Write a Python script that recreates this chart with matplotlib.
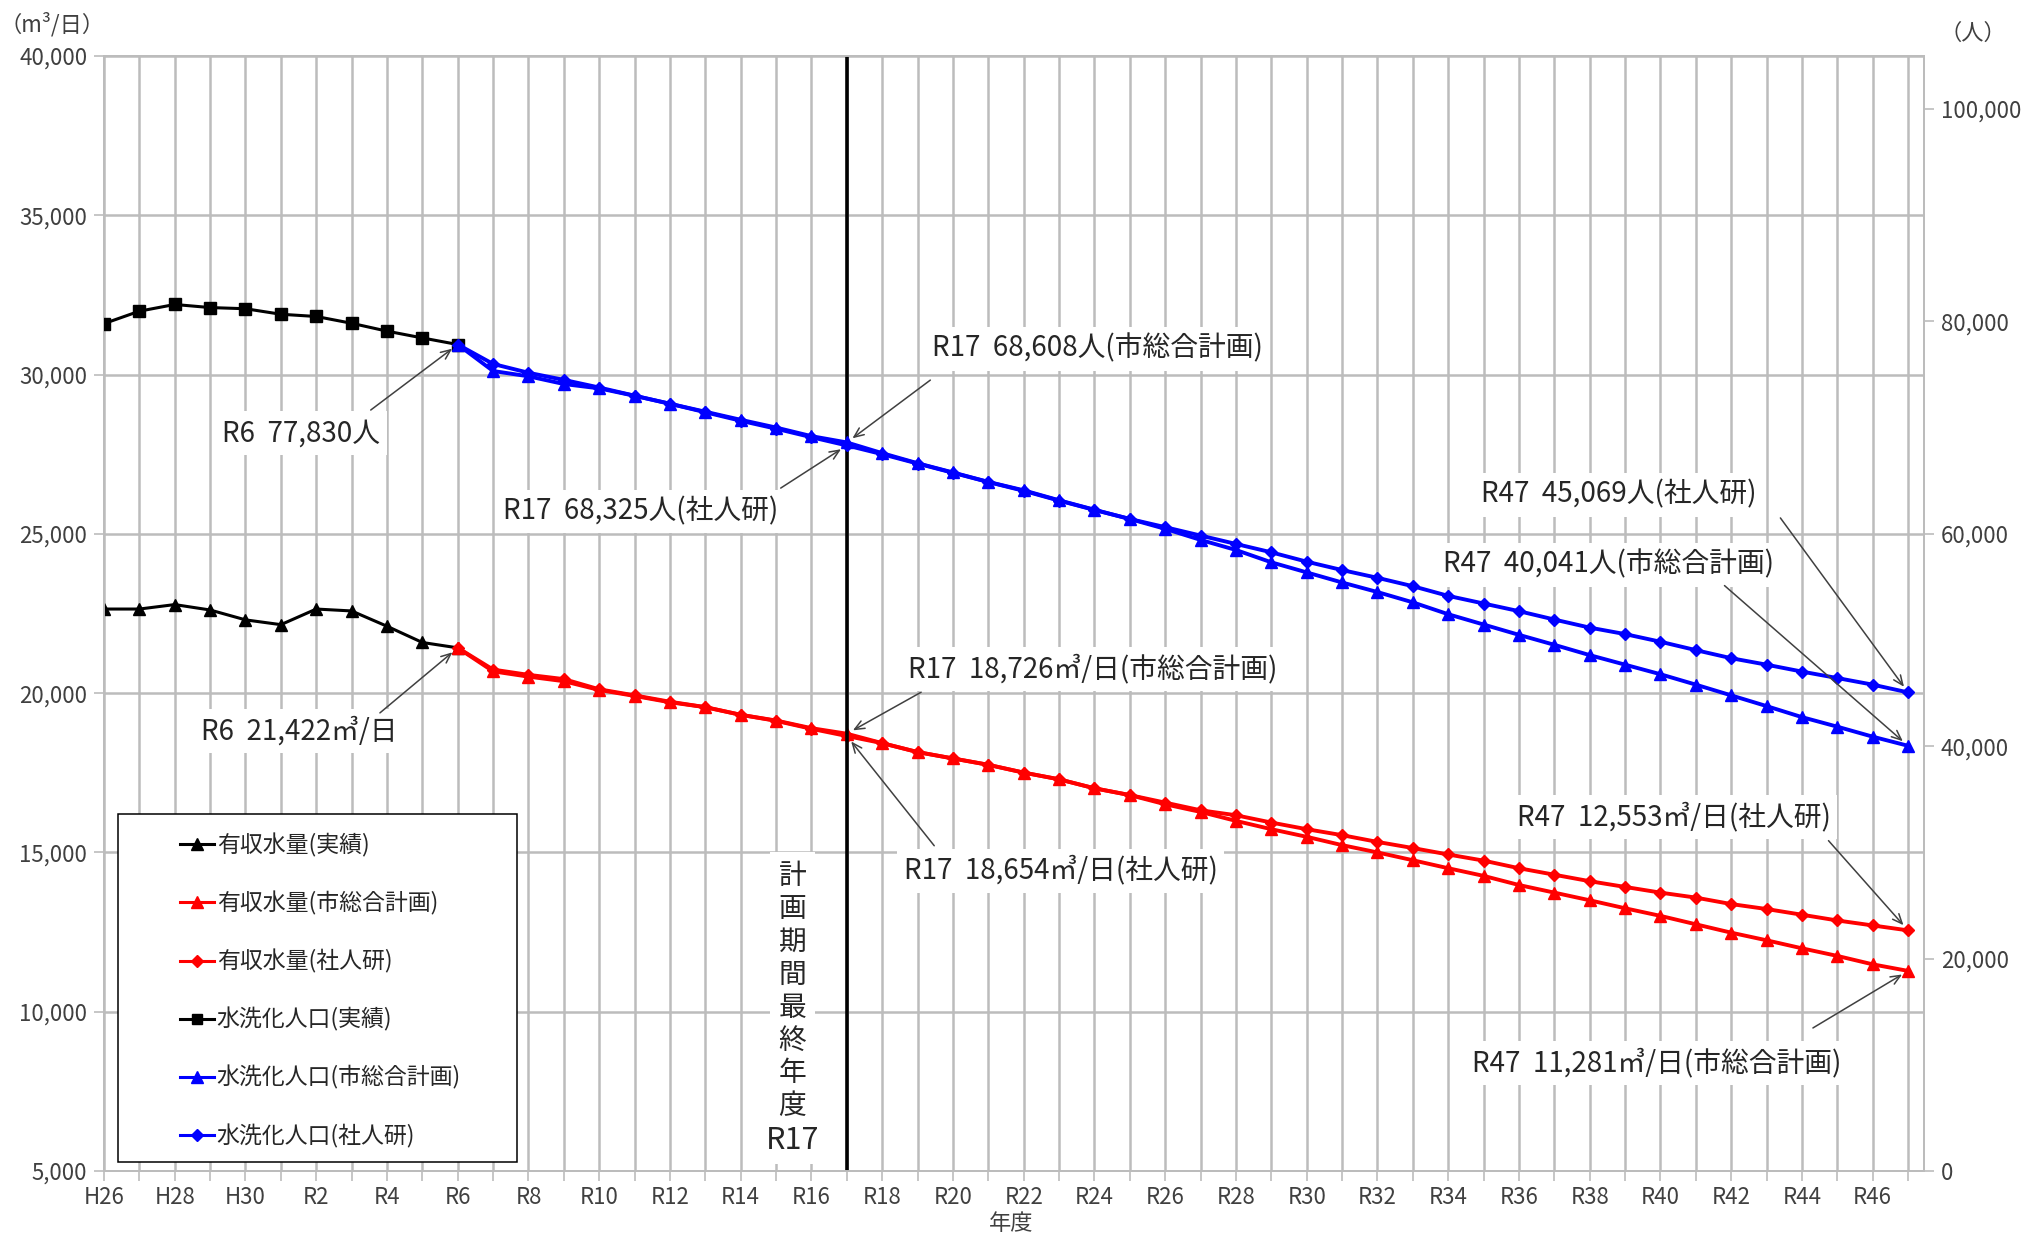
import matplotlib
matplotlib.use('Agg')
import matplotlib.pyplot as plt
from matplotlib.lines import Line2D
from matplotlib.patches import Rectangle

plt.rcParams['font.family'] = ['Noto Sans CJK JP', 'DejaVu Sans']

# ---------------- data ----------------
years = ['H26', 'H27', 'H28', 'H29', 'H30'] + [f'R{i}' for i in range(1, 48)]
x_actual = list(range(0, 11))      # H26 .. R6
x_proj = list(range(10, 52))       # R6 .. R47

water_actual = [22640, 22640, 22780, 22610, 22300, 22150, 22640, 22580, 22100, 21590, 21422]
pop_actual = [79800, 80970, 81600, 81310, 81200, 80680, 80470, 79830, 79090, 78450, 77830]

water_plan = [21422, 20684, 20518, 20375, 20099, 19912, 19713, 19560, 19319, 19141,
              18900, 18726, 18430, 18150, 17950, 17750, 17505, 17295, 17013, 16800,
              16511, 16271, 15990, 15729, 15490, 15229, 15000, 14755, 14504, 14264,
              13977, 13738, 13498, 13247, 13008, 12744, 12481, 12242, 11990, 11751,
              11487, 11281]
water_ipss = [21422, 20739, 20574, 20441, 20120, 19930, 19730, 19560, 19320, 19130,
              18880, 18654, 18430, 18150, 17950, 17750, 17505, 17295, 17013, 16800,
              16563, 16323, 16167, 15938, 15729, 15542, 15330, 15138, 14935, 14743,
              14504, 14300, 14097, 13917, 13738, 13582, 13379, 13223, 13044, 12864,
              12708, 12553]
pop_plan = [77830, 75334, 74837, 74110, 73700, 73000, 72250, 71500, 70740, 70010,
            69200, 68608, 67600, 66650, 65780, 64890, 64100, 63160, 62270, 61400,
            60470, 59430, 58480, 57320, 56370, 55420, 54520, 53550, 52430, 51460,
            50490, 49550, 48580, 47680, 46780, 45800, 44790, 43780, 42740, 41840,
            40900, 40041]
pop_ipss = [77830, 76000, 75170, 74500, 73780, 73010, 72250, 71450, 70650, 69900,
            69100, 68325, 67500, 66620, 65750, 64880, 64050, 63130, 62250, 61400,
            60630, 59840, 59050, 58260, 57380, 56590, 55860, 55070, 54160, 53440,
            52720, 51930, 51170, 50560, 49840, 49050, 48290, 47680, 47030, 46420,
            45800, 45069]

legend_labels = ['有収水量(実績)', '有収水量(市総合計画)', '有収水量(社人研)',
                 '水洗化人口(実績)', '水洗化人口(市総合計画)', '水洗化人口(社人研)']

left_ticks = list(range(5000, 40001, 5000))
right_ticks = list(range(0, 100001, 20000))

# ---------------- figure ----------------
W, H = 2041, 1235
fig = plt.figure(figsize=(W / 100, H / 100), dpi=100)
L, R, T, B = 104, 1924, 56, 1171
ax = fig.add_axes([L / W, 1 - B / H, (R - L) / W, (B - T) / H])
ax2 = ax.twinx()

grid_c = '#bcbcbc'
tick_c = '#404040'
txt_c = '#262626'

ax.set_xlim(0, 51.45)
ax.set_ylim(5000, 40000)
ax2.set_ylim(0, 105000)

ax.set_xticks(range(len(years)))
ax.set_xticklabels([y if i % 2 == 0 else '' for i, y in enumerate(years)])
ax.set_yticks(left_ticks)
ax.set_yticklabels([f'{v:,}' for v in left_ticks])
ax2.set_yticks(right_ticks)
ax2.set_yticklabels([f'{v:,}' for v in right_ticks])

ax.grid(True, color=grid_c, lw=1.8)
ax.set_axisbelow(True)
for a in (ax, ax2):
    for s in a.spines.values():
        s.set_color(grid_c)
        s.set_linewidth(1.4)
ax.tick_params(axis='both', length=7, width=1.2, color=grid_c, labelsize=16,
               labelcolor=tick_c, direction='out')
ax.tick_params(axis='x', pad=4)
ax.tick_params(axis='y', pad=5)
ax2.tick_params(axis='y', length=7, width=1.2, color=grid_c, labelsize=16,
                labelcolor=tick_c, pad=5)

# ---------------- series ----------------
lw = 2.8
ax.plot(x_actual, water_actual, color='black', lw=2.2, marker='^', ms=9, zorder=3)
ax.plot(x_proj, water_plan, color='#ff0000', lw=lw, marker='^', ms=9, zorder=3)
ax.plot(x_proj, water_ipss, color='#ff0000', lw=lw, marker='D', ms=6.5, zorder=3)
ax2.plot(x_actual, pop_actual, color='black', lw=2.2, marker='s', ms=8, zorder=3)
ax2.plot(x_proj, pop_plan, color='#0000ff', lw=lw, marker='^', ms=9, zorder=3)
ax2.plot(x_proj, pop_ipss, color='#0000ff', lw=lw, marker='D', ms=6.5, zorder=3)

i17 = years.index('R17')
i6 = years.index('R6')
i47 = years.index('R47')
ax.axvline(i17, color='black', lw=2.6, zorder=4)

# ---------------- annotations ----------------
box = dict(boxstyle='square,pad=0.25', fc='white', ec='none')
arrow = dict(arrowstyle='->,head_length=0.7,head_width=0.3', color='#404040', lw=1.1,
             shrinkA=0, shrinkB=5)
fs = 20


def note(a, text, txy, tail, target):
    a.text(txy[0], txy[1], text, ha='center', va='center', fontsize=fs, color=txt_c,
           bbox=box, zorder=6)
    a.annotate('', xy=target, xytext=tail, arrowprops=arrow, zorder=6)


def pj(i):
    return i - i6

note(ax2, 'R6  77,830人', (5.56, 69460), (7.54, 71660), (i6, pop_actual[-1]))
note(ax, 'R6  21,422㎥/日', (5.52, 18800), (7.80, 19380), (i6, water_actual[-1]))
note(ax2, 'R17  68,608人(市総合計画)', (28.07, 77420), (23.36, 74480), (i17, pop_plan[pj(i17)]))
note(ax2, 'R17  68,325人(社人研)', (15.16, 62110), (19.13, 64310), (i17, pop_ipss[pj(i17)]))
note(ax, 'R17  18,726㎥/日(市総合計画)', (27.96, 20760), (23.10, 20030), (i17, water_plan[pj(i17)]))
note(ax, 'R17  18,654㎥/日(社人研)', (27.04, 14430), (23.47, 15210), (i17, water_ipss[pj(i17)]))
note(ax2, 'R47  45,069人(社人研)', (42.83, 63700), (47.39, 61500), (i47, pop_ipss[-1]))
note(ax2, 'R47  40,041人(市総合計画)', (42.53, 57090), (45.81, 55130), (i47, pop_plan[-1]))
note(ax, 'R47  12,553㎥/日(社人研)', (44.37, 16110), (48.75, 15370), (i47, water_ipss[-1]))
note(ax, 'R47  11,281㎥/日(市総合計画)', (43.89, 8390), (48.31, 9490), (i47, water_plan[-1]))

ax.text(19.46, 10650, '\n'.join('計画期間最終年度'), ha='center', va='center', fontsize=20,
        color=txt_c, linespacing=1.13, bbox=dict(boxstyle='square,pad=0.3', fc='white', ec='none'),
        zorder=5)
ax.text(19.46, 5950, 'R17', ha='center', va='center', fontsize=22, color=txt_c,
        bbox=dict(boxstyle='square,pad=0.25', fc='white', ec='none'), zorder=5)

# ---------------- legend ----------------
handles = [
    Line2D([], [], color='black', lw=2.2, marker='^', ms=8),
    Line2D([], [], color='#ff0000', lw=2.2, marker='^', ms=8),
    Line2D([], [], color='#ff0000', lw=2.2, marker='D', ms=6),
    Line2D([], [], color='black', lw=2.2, marker='s', ms=7),
    Line2D([], [], color='#0000ff', lw=2.2, marker='^', ms=8),
    Line2D([], [], color='#0000ff', lw=2.2, marker='D', ms=6),
]
ax2.add_patch(Rectangle((118 / W, 1 - 1162 / H), (517 - 118) / W, (1162 - 814) / H,
                        transform=fig.transFigure, fc='white', ec='black', lw=1.1,
                        zorder=8, clip_on=False))
leg = ax2.legend(handles, legend_labels, loc='upper left',
                 bbox_to_anchor=(180 / W, 1 - 833 / H), bbox_transform=fig.transFigure,
                 frameon=False, fontsize=16.5, handlelength=1.5, handletextpad=0.1,
                 labelspacing=1.48, borderpad=0, borderaxespad=0)
leg.set_zorder(9)
for t in leg.get_texts():
    t.set_color(txt_c)

# ---------------- axis titles ----------------
fig.text(52 / W, 1 - 24 / H, '（m³/日）', ha='center', va='center', fontsize=16, color=tick_c)
fig.text(1973 / W, 1 - 33 / H, '（人）', ha='center', va='center', fontsize=16, color=tick_c)
fig.text(1011 / W, 1 - 1224 / H, '年度', ha='center', va='center', fontsize=16, color=tick_c)

fig.savefig('out.png', dpi=100, facecolor='white')
